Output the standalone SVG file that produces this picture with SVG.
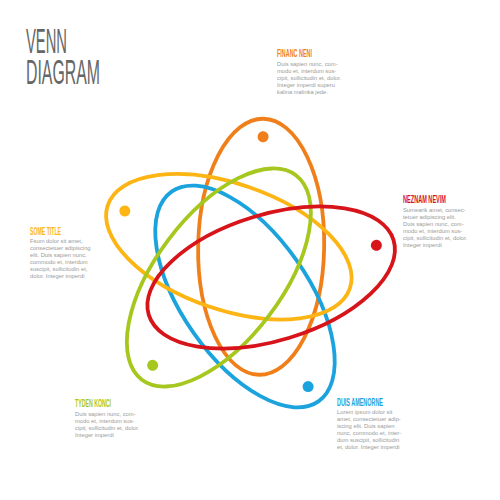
<svg xmlns="http://www.w3.org/2000/svg" width="500" height="500" viewBox="0 0 500 500">
<style>
.title{font-family:"Liberation Sans",Arial,sans-serif;font-size:35px;fill:#666666}
.head{font-family:"Liberation Sans",Arial,sans-serif;font-size:10px;font-weight:bold;fill:currentColor}
.body{font-family:"Liberation Sans",Arial,sans-serif;font-size:5.8px;fill:#9a9a9a}
.orange{color:#F07F1A}
.red{color:#D7141A}
.blue{color:#1BA3DD}
.green{color:#A6C71E}
.yellow{color:#FDB515}
</style>
<defs>
<g id="orbit">
<ellipse cx="245" cy="296.5" rx="128" ry="63" transform="rotate(55 245 296.5)" fill="none" stroke="currentColor" stroke-width="3.8"/>
<circle cx="308.1" cy="386.6" r="5.5" fill="currentColor"/>
</g>
</defs>
<rect width="500" height="500" fill="#ffffff"/>
<g id="title">
<text class="title"><tspan x="26" y="52.5" textLength="41" lengthAdjust="spacingAndGlyphs">VENN</tspan><tspan x="26" y="84" textLength="74" lengthAdjust="spacingAndGlyphs">DIAGRAM</tspan></text>
</g>
<g id="node-financ-neni" class="orange">
<use href="#orbit" transform="rotate(216 245 269)"/>
<text class="head" x="277" y="57" textLength="35" lengthAdjust="spacingAndGlyphs">FINANC NENI</text>
<text class="body" x="277" y="65.5">Duis sapien nunc, com-</text>
<text class="body" x="277" y="72.5">modo et, interdum sus-</text>
<text class="body" x="277" y="79.5">cipit, sollicitudin et, dolor.</text>
<text class="body" x="277" y="86.5">Integer imperdi superu</text>
<text class="body" x="277" y="93.5">kalina malinka jede.</text>
</g>
<g id="node-duis-amenorne" class="blue">
<use href="#orbit"/>
<text class="head" x="337" y="406" textLength="46" lengthAdjust="spacingAndGlyphs">DUIS AMENORNE</text>
<text class="body" x="337" y="414">Lorem ipsum dolor sit</text>
<text class="body" x="337" y="421">amet, consectetuer adip-</text>
<text class="body" x="337" y="428">iscing elit. Duis sapien</text>
<text class="body" x="337" y="435">nunc, commodo et, inter-</text>
<text class="body" x="337" y="442">dum suscipit, sollicitudin</text>
<text class="body" x="337" y="449">et, dolor. Integer imperdi</text>
</g>
<g id="node-some-title" class="yellow">
<use href="#orbit" transform="rotate(144 245 269)"/>
<text class="head" x="30" y="235" textLength="31" lengthAdjust="spacingAndGlyphs">SOME TITLE</text>
<text class="body" x="30" y="243">Fsum dolor sit amet,</text>
<text class="body" x="30" y="250">consectetuer adipiscing</text>
<text class="body" x="30" y="257">elit. Duis sapien nunc,</text>
<text class="body" x="30" y="264">commodo et, interdum</text>
<text class="body" x="30" y="271">suscipit, sollicitudin et,</text>
<text class="body" x="30" y="278">dolor. Integer imperdi</text>
</g>
<g id="node-tyden-konci" class="green">
<use href="#orbit" transform="rotate(72 245 269)"/>
<text class="head" x="75" y="407" textLength="36" lengthAdjust="spacingAndGlyphs">TYDEN KONCI</text>
<text class="body" x="75" y="415.5">Duis sapien nunc, com-</text>
<text class="body" x="75" y="422.5">modo et, interdum sus-</text>
<text class="body" x="75" y="429.5">cipit, sollicitudin et, dolor.</text>
<text class="body" x="75" y="436.5">Integer imperdi</text>
</g>
<g id="node-neznam-nevim" class="red">
<use href="#orbit" transform="rotate(288 245 269)"/>
<text class="head" x="403" y="202.5" textLength="43" lengthAdjust="spacingAndGlyphs">NEZNAM NEVIM</text>
<text class="body" x="403" y="211.5">Sumearik amet, consec-</text>
<text class="body" x="403" y="218.5">tetuer adipiscing elit.</text>
<text class="body" x="403" y="225.5">Duis sapien nunc, com-</text>
<text class="body" x="403" y="232.5">modo et, interdum sus-</text>
<text class="body" x="403" y="239.5">cipit, sollicitudin et, dolor.</text>
<text class="body" x="403" y="246.5">Integer imperdi</text>
</g>
<g id="connectors"/>
</svg>
